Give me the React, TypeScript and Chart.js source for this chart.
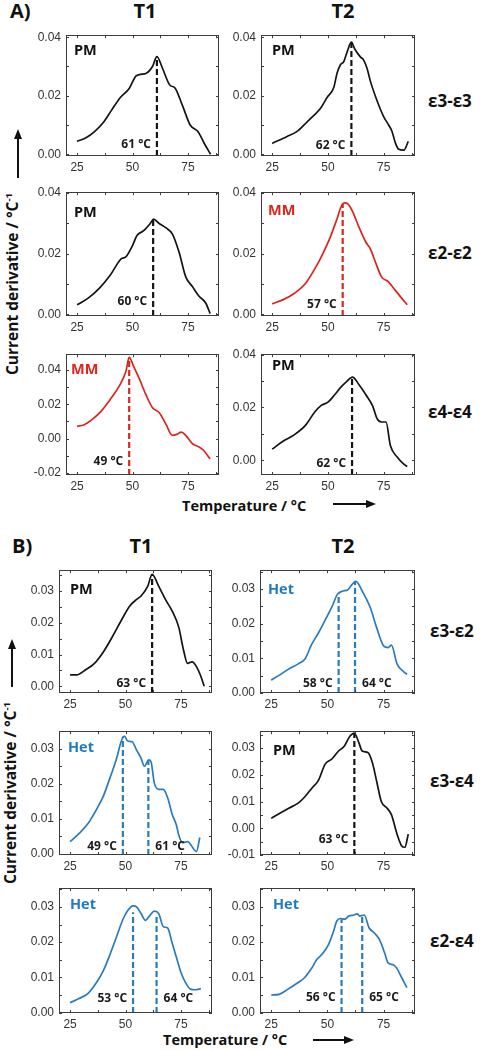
import React, { useEffect, useRef } from 'react';
import { Chart, registerables } from 'chart.js';

Chart.register(...registerables);

// ---------- data ----------
// Panel A, ε3-ε3
const tempA33T1 = [25, 29, 33, 37, 40.5, 44.5, 48.5, 51.5, 53.5, 56, 59, 61, 63.5, 67, 69, 72.5, 76, 79.5, 82.5, 85.2];
const derivA33T1 = [0.0044, 0.0056, 0.0078, 0.011, 0.015, 0.0194, 0.0225, 0.0267, 0.0273, 0.0276, 0.030, 0.0334, 0.0294, 0.0235, 0.0228, 0.0167, 0.010, 0.0078, 0.0035, 0.0];
const tempA33T2 = [25, 31.7, 36.2, 40.7, 43.7, 46.6, 49.6, 52.6, 54.1, 55.6, 57.1, 58.6, 60.5, 62, 64.5, 66, 67.5, 69, 72, 75, 77.2, 78.7, 80.2, 81.7, 84, 86];
const derivA33T2 = [0.0037, 0.0061, 0.0078, 0.0111, 0.0133, 0.0156, 0.0194, 0.0228, 0.0278, 0.0306, 0.0317, 0.035, 0.0383, 0.036, 0.0333, 0.0322, 0.0294, 0.025, 0.0183, 0.0128, 0.010, 0.0078, 0.0039, 0.0017, 0.0014, 0.0044];
// Panel A, ε2-ε2
const tempA22T1 = [25, 30, 35, 40, 45, 47, 50, 52, 55, 58, 59.5, 62, 65, 68, 71, 74, 77, 80, 83, 85];
const derivA22T1 = [0.0032, 0.0054, 0.0086, 0.013, 0.0184, 0.019, 0.0227, 0.026, 0.0276, 0.030, 0.0314, 0.030, 0.0286, 0.0265, 0.0205, 0.0124, 0.0092, 0.006, 0.0038, 0.0003];
const tempA22T2 = [25, 30, 35, 40, 45, 48, 51, 54, 56, 57.5, 59, 61, 64, 67, 69, 71, 74, 77, 80, 83, 85.5];
const derivA22T2 = [0.0035, 0.0049, 0.007, 0.0103, 0.0162, 0.0205, 0.0254, 0.0314, 0.0357, 0.0368, 0.0364, 0.034, 0.0286, 0.0238, 0.0216, 0.0178, 0.0124, 0.0108, 0.0081, 0.0054, 0.0032];
// Panel A, ε4-ε4
const tempA44T1 = [25, 28, 32, 36, 40, 44, 47, 48.5, 50.5, 53, 56, 59, 62, 65, 68, 70, 72, 74, 77, 80, 82, 85];
const derivA44T1 = [0.0072, 0.008, 0.0114, 0.0162, 0.0229, 0.0305, 0.039, 0.0472, 0.042, 0.035, 0.0257, 0.018, 0.0152, 0.0086, 0.0019, 0.0025, 0.0038, 0.0019, -0.0029, -0.0048, -0.0067, -0.0118];
const tempA44T2 = [25, 30, 35, 40, 44, 47, 50, 53, 56, 58, 61, 64, 67, 70, 72, 74, 76, 78, 81, 84, 85.5];
const derivA44T2 = [0.0042, 0.0073, 0.0097, 0.0133, 0.0182, 0.0208, 0.022, 0.0248, 0.0279, 0.0295, 0.0315, 0.0285, 0.0248, 0.0206, 0.0158, 0.0145, 0.0145, 0.0055, 0.0012, -0.0015, -0.0024];
// Panel B, ε3-ε2
const tempB32T1 = [25, 28, 32, 36, 40, 44, 48, 52, 55, 57, 60, 62, 65, 68, 71, 74, 76, 78, 80, 82, 84, 85.5];
const derivB32T1 = [0.0036, 0.0036, 0.0052, 0.0072, 0.0108, 0.0155, 0.0206, 0.0253, 0.0273, 0.0284, 0.0314, 0.0352, 0.0314, 0.0273, 0.0237, 0.0186, 0.0119, 0.0072, 0.0077, 0.0062, 0.0031, 0.0];
const tempB32T2 = [25, 29, 33, 37, 40, 43, 46, 49, 52, 54.5, 57, 59, 61, 62.7, 65.5, 69, 72, 75, 77, 78.5, 81, 84, 85.5];
const derivB32T2 = [0.0037, 0.0053, 0.007, 0.0084, 0.0098, 0.014, 0.0173, 0.021, 0.0248, 0.0285, 0.0294, 0.0297, 0.0313, 0.0322, 0.0294, 0.0248, 0.0187, 0.0136, 0.0131, 0.0138, 0.0084, 0.0061, 0.0054];
// Panel B, ε3-ε4
const tempB34T1 = [25, 29, 33, 37, 40, 43, 46, 48, 49.5, 51, 53, 55, 57, 58.5, 60.5, 61.5, 63, 65, 67, 69, 71, 73, 74, 75.7, 78, 81, 82, 83.5];
const derivB34T1 = [0.0035, 0.0058, 0.0086, 0.0128, 0.0165, 0.0217, 0.0273, 0.032, 0.0336, 0.0322, 0.032, 0.0296, 0.0273, 0.025, 0.0268, 0.0263, 0.0202, 0.0184, 0.0184, 0.016, 0.0114, 0.0081, 0.0054, 0.0032, 0.0035, 0.0012, 0.0007, 0.0047];
const tempB34T2 = [25, 29, 33, 37, 40, 43, 46, 49, 52, 55, 57.5, 60, 62, 64, 65.5, 68, 70, 72, 74, 76.5, 78.5, 81, 83, 84.5, 86];
const derivB34T2 = [0.0037, 0.0057, 0.0076, 0.0094, 0.0118, 0.0149, 0.0179, 0.024, 0.0259, 0.0289, 0.0307, 0.0344, 0.0356, 0.032, 0.0289, 0.0283, 0.0246, 0.0173, 0.010, 0.0076, 0.0051, -0.0022, -0.0065, -0.0071, -0.0022];
// Panel B, ε2-ε4
const tempB24T1 = [25, 29, 33, 37, 40, 43, 46, 49, 51, 53.5, 55, 57, 59, 61, 63, 65, 67, 69, 71, 73, 75, 77, 79, 81.5, 84];
const derivB24T1 = [0.0028, 0.004, 0.0054, 0.0086, 0.0119, 0.0165, 0.0216, 0.0267, 0.029, 0.0303, 0.030, 0.0281, 0.0262, 0.0276, 0.0288, 0.0281, 0.0244, 0.024, 0.0198, 0.0156, 0.0114, 0.0086, 0.0068, 0.0065, 0.0068];
const tempB24T2 = [25, 28.5, 32.3, 36.8, 39.8, 42.9, 45.2, 47.4, 50.5, 52.7, 54.2, 55.8, 57.7, 59.5, 61.8, 63.3, 64.4, 66.4, 68.6, 70.9, 73.2, 75.5, 77, 79.3, 80.8, 83.1, 85.4];
const derivB24T2 = [0.005, 0.0052, 0.0066, 0.0085, 0.0099, 0.0125, 0.015, 0.0164, 0.0193, 0.023, 0.026, 0.0267, 0.0265, 0.0274, 0.0277, 0.028, 0.0274, 0.0277, 0.024, 0.0226, 0.0207, 0.0169, 0.0141, 0.0136, 0.0127, 0.0099, 0.0071];

// peak (dashed line) temperatures, heights and texts
const peaksA33T1 = [61]; const peakTopsA33T1 = [0.0334]; const peakTextsA33T1 = ['61 °C'];
const peaksA33T2 = [60.5]; const peakTopsA33T2 = [0.0383]; const peakTextsA33T2 = ['62 °C'];
const peaksA22T1 = [59.3]; const peakTopsA22T1 = [0.0313]; const peakTextsA22T1 = ['60 °C'];
const peaksA22T2 = [56.6]; const peakTopsA22T2 = [0.0366]; const peakTextsA22T2 = ['57 °C'];
const peaksA44T1 = [48.5]; const peakTopsA44T1 = [0.0472]; const peakTextsA44T1 = ['49 °C'];
const peaksA44T2 = [60.8]; const peakTopsA44T2 = [0.0313]; const peakTextsA44T2 = ['62 °C'];
const peaksB32T1 = [62]; const peakTopsB32T1 = [0.0352]; const peakTextsB32T1 = ['63 °C'];
const peaksB32T2 = [55, 62.3]; const peakTopsB32T2 = [0.0288, 0.032]; const peakTextsB32T2 = ['58 °C', '64 °C'];
const peaksB34T1 = [48.8, 60.3]; const peakTopsB34T1 = [0.0335, 0.0268]; const peakTextsB34T1 = ['49 °C', '61 °C'];
const peaksB34T2 = [62]; const peakTopsB34T2 = [0.0356]; const peakTextsB34T2 = ['63 °C'];
const peaksB24T1 = [53.4, 64]; const peakTopsB24T1 = [0.0285, 0.028]; const peakTextsB24T1 = ['53 °C', '64 °C'];
const peaksB24T2 = [56.3, 65.5]; const peakTopsB24T2 = [0.0265, 0.0275]; const peakTextsB24T2 = ['56 °C', '65 °C'];

// tick values / labels
const xTickValues = [25, 37.5, 50, 62.5, 75, 87.5];
const xTickLabels = [25, 50, 75];
const yTickValuesA = [-0.02, -0.01, 0, 0.01, 0.02, 0.03, 0.04];
const yTickLabelsA = [-0.02, 0, 0.02, 0.04];
const yTickValuesB = [-0.01, -0.005, 0, 0.005, 0.01, 0.015, 0.02, 0.025, 0.03, 0.035];
const yTickLabelsB = [-0.01, 0, 0.01, 0.02, 0.03];

const columnTitles = ['T1', 'T2'];
const rowLabelsA = ['ε3-ε3', 'ε2-ε2', 'ε4-ε4'];
const rowLabelsB = ['ε3-ε2', 'ε3-ε4', 'ε2-ε4'];

// ---------- styles / layout ----------
const BLACK = '#141414';
const RED = '#d8261e';
const BLUE = '#2a7bbd';
const X_MIN = 20;
const X_MAX = 89;
const PAD_L = 46, PAD_T = 10, PAD_R = 6, PAD_B = 24;
const FONT = '"Open Sans", "DejaVu Sans", sans-serif';
const TICK_FONT = '"Liberation Sans", Arial, sans-serif';

type Panel = {
  left: number; right: number; top: number; bottom: number;
  temps: number[]; values: number[];
  yMin: number; yMax: number; yTicks: number[]; yLabels: number[];
  color: string; tag: string; tagDx: number; tagDy: number;
  peaks: number[]; peakTops: number[]; peakTexts: string[]; sides: string[]; labelDy: number;
};

const AC1 = [66, 219], AC2 = [261, 415], BC1 = [59, 212], BC2 = [260, 415];
const AR = [[33, 156], [190, 316], [352, 475]];
const BR = [[568, 693], [729, 855], [886, 1013]];

const mk = (col: number[], row: number[], rest: Omit<Panel, 'left' | 'right' | 'top' | 'bottom'>): Panel => ({
  left: col[0], right: col[1], top: row[0], bottom: row[1], ...rest,
});

const panels: Panel[] = [
  mk(AC1, AR[0], { temps: tempA33T1, values: derivA33T1, yMin: -0.0006, yMax: 0.0407, yTicks: yTickValuesA, yLabels: yTickLabelsA, color: BLACK, tag: 'PM', tagDx: 8, tagDy: 20, peaks: peaksA33T1, peakTops: peakTopsA33T1, peakTexts: peakTextsA33T1, sides: ['l'], labelDy: 8 }),
  mk(AC2, AR[0], { temps: tempA33T2, values: derivA33T2, yMin: -0.0006, yMax: 0.0407, yTicks: yTickValuesA, yLabels: yTickLabelsA, color: BLACK, tag: 'PM', tagDx: 11, tagDy: 20, peaks: peaksA33T2, peakTops: peakTopsA33T2, peakTexts: peakTextsA33T2, sides: ['l'], labelDy: 7 }),
  mk(AC1, AR[1], { temps: tempA22T1, values: derivA22T1, yMin: -0.0005, yMax: 0.0403, yTicks: yTickValuesA, yLabels: yTickLabelsA, color: BLACK, tag: 'PM', tagDx: 8, tagDy: 25, peaks: peaksA22T1, peakTops: peakTopsA22T1, peakTexts: peakTextsA22T1, sides: ['l'], labelDy: 11 }),
  mk(AC2, AR[1], { temps: tempA22T2, values: derivA22T2, yMin: -0.0005, yMax: 0.0403, yTicks: yTickValuesA, yLabels: yTickLabelsA, color: RED, tag: 'MM', tagDx: 7, tagDy: 23, peaks: peaksA22T2, peakTops: peakTopsA22T2, peakTexts: peakTextsA22T2, sides: ['l'], labelDy: 8 }),
  mk(AC1, AR[2], { temps: tempA44T1, values: derivA44T1, yMin: -0.0211, yMax: 0.0491, yTicks: yTickValuesA, yLabels: yTickLabelsA, color: RED, tag: 'MM', tagDx: 5, tagDy: 20, peaks: peaksA44T1, peakTops: peakTopsA44T1, peakTexts: peakTextsA44T1, sides: ['l'], labelDy: 10 }),
  mk(AC2, AR[2], { temps: tempA44T2, values: derivA44T2, yMin: -0.0056, yMax: 0.0402, yTicks: yTickValuesA, yLabels: yTickLabelsA, color: BLACK, tag: 'PM', tagDx: 11, tagDy: 16, peaks: peaksA44T2, peakTops: peakTopsA44T2, peakTexts: peakTextsA44T2, sides: ['l'], labelDy: 8 }),
  mk(BC1, BR[0], { temps: tempB32T1, values: derivB32T1, yMin: -0.0021, yMax: 0.0365, yTicks: yTickValuesB, yLabels: yTickLabelsB, color: BLACK, tag: 'PM', tagDx: 11, tagDy: 24, peaks: peaksB32T1, peakTops: peakTopsB32T1, peakTexts: peakTextsB32T1, sides: ['l'], labelDy: 6 }),
  mk(BC2, BR[0], { temps: tempB32T2, values: derivB32T2, yMin: 0, yMax: 0.0354, yTicks: yTickValuesB, yLabels: yTickLabelsB, color: BLUE, tag: 'Het', tagDx: 8, tagDy: 24, peaks: peaksB32T2, peakTops: peakTopsB32T2, peakTexts: peakTextsB32T2, sides: ['l', 'r'], labelDy: 6 }),
  mk(BC1, BR[1], { temps: tempB34T1, values: derivB34T1, yMin: -0.0003, yMax: 0.035, yTicks: yTickValuesB, yLabels: yTickLabelsB, color: BLUE, tag: 'Het', tagDx: 9, tagDy: 21, peaks: peaksB34T1, peakTops: peakTopsB34T1, peakTexts: peakTextsB34T1, sides: ['l', 'r'], labelDy: 5 }),
  mk(BC2, BR[1], { temps: tempB34T2, values: derivB34T2, yMin: -0.01, yMax: 0.0363, yTicks: yTickValuesB, yLabels: yTickLabelsB, color: BLACK, tag: 'PM', tagDx: 13, tagDy: 24, peaks: peaksB34T2, peakTops: peakTopsB34T2, peakTexts: peakTextsB34T2, sides: ['l'], labelDy: 12 }),
  mk(BC1, BR[2], { temps: tempB24T1, values: derivB24T1, yMin: -0.0001, yMax: 0.0353, yTicks: yTickValuesB, yLabels: yTickLabelsB, color: BLUE, tag: 'Het', tagDx: 11, tagDy: 21, peaks: peaksB24T1, peakTops: peakTopsB24T1, peakTexts: peakTextsB24T1, sides: ['l', 'r'], labelDy: 11 }),
  mk(BC2, BR[2], { temps: tempB24T2, values: derivB24T2, yMin: -0.0001, yMax: 0.0353, yTicks: yTickValuesB, yLabels: yTickLabelsB, color: BLUE, tag: 'Het', tagDx: 13, tagDy: 21, peaks: peaksB24T2, peakTops: peakTopsB24T2, peakTexts: peakTextsB24T2, sides: ['l', 'r'], labelDy: 12 }),
];

const TAG_COLORS: Record<string, string> = { PM: '#111111', MM: '#e2231a', Het: '#1f7ac4' };

function PanelChart({ p }: { p: Panel }) {
  const ref = useRef<HTMLCanvasElement>(null);
  const w = p.right - p.left + PAD_L + PAD_R;
  const h = p.bottom - p.top + PAD_T + PAD_B;

  useEffect(() => {
    if (!ref.current) return;
    const deco = {
      id: 'deco',
      afterDatasetsDraw(chart: any) {
        const { ctx, chartArea: a, scales } = chart;
        const xs = scales.x, ys = scales.y;
        ctx.save();
        // frame
        ctx.strokeStyle = '#3c3c3c';
        ctx.lineWidth = 1;
        ctx.strokeRect(Math.round(a.left) + 0.5, Math.round(a.top) + 0.5, Math.round(a.right - a.left) - 1, Math.round(a.bottom - a.top) - 1);
        // inward ticks
        ctx.beginPath();
        xs.ticks.forEach((t: any) => {
          const px = Math.round(xs.getPixelForValue(t.value)) + 0.5;
          ctx.moveTo(px, a.bottom); ctx.lineTo(px, a.bottom - 3);
          ctx.moveTo(px, a.top); ctx.lineTo(px, a.top + 3);
        });
        ys.ticks.forEach((t: any) => {
          const py = Math.round(ys.getPixelForValue(t.value)) + 0.5;
          ctx.moveTo(a.left, py); ctx.lineTo(a.left + 3, py);
          ctx.moveTo(a.right, py); ctx.lineTo(a.right - 3, py);
        });
        ctx.stroke();
        // tag
        ctx.font = `bold 14.5px ${FONT}`;
        ctx.fillStyle = TAG_COLORS[p.tag];
        ctx.textAlign = 'left';
        ctx.textBaseline = 'alphabetic';
        ctx.fillText(p.tag, a.left + p.tagDx, a.top + p.tagDy);
        // peak labels
        ctx.font = `bold 12px ${FONT}`;
        ctx.fillStyle = '#1a1a1a';
        p.peaks.forEach((pk, i) => {
          const px = xs.getPixelForValue(pk);
          const left = p.sides[i] === 'l';
          ctx.textAlign = left ? 'right' : 'left';
          ctx.fillText(p.peakTexts[i], left ? px - 6 : px + 7, a.bottom - p.labelDy);
        });
        ctx.restore();
      },
    };

    const datasets: any[] = [
      {
        data: p.temps.map((t, i) => ({ x: t, y: p.values[i] })),
        borderColor: p.color,
        borderWidth: 1.7,
        pointRadius: 0,
        fill: false,
        cubicInterpolationMode: 'monotone',
      },
      ...p.peaks.map((pk, i) => ({
        data: [{ x: pk, y: p.yMin }, { x: pk, y: p.peakTops[i] }],
        borderColor: p.color,
        borderWidth: 2.2,
        borderDash: [6, 3],
        pointRadius: 0,
        fill: false,
      })),
    ];

    const chart = new Chart(ref.current, {
      type: 'line',
      data: { datasets },
      options: {
        animation: false,
        responsive: false,
        events: [],
        layout: { padding: { left: 0, top: PAD_T, right: PAD_R, bottom: 0 } },
        plugins: { legend: { display: false }, tooltip: { enabled: false } },
        scales: {
          x: {
            type: 'linear',
            min: X_MIN,
            max: X_MAX,
            grid: { display: false, drawTicks: false, tickLength: 0 },
            border: { display: false },
            afterBuildTicks: (s: any) => { s.ticks = xTickValues.map((v) => ({ value: v })); },
            afterFit: (s: any) => { s.height = PAD_B; },
            ticks: {
              autoSkip: false,
              maxRotation: 0,
              padding: 4,
              color: '#333',
              font: { size: 12, family: TICK_FONT },
              callback: (v: any) => (xTickLabels.includes(v) ? String(v) : ''),
            },
          },
          y: {
            type: 'linear',
            min: p.yMin,
            max: p.yMax,
            grid: { display: false, drawTicks: false, tickLength: 0 },
            border: { display: false },
            afterBuildTicks: (s: any) => {
              s.ticks = p.yTicks.filter((v) => v >= p.yMin - 1e-9 && v <= p.yMax + 1e-9).map((v) => ({ value: v }));
            },
            afterFit: (s: any) => { s.width = PAD_L; },
            ticks: {
              autoSkip: false,
              padding: 5,
              color: '#333',
              font: { size: 12, family: TICK_FONT },
              callback: (v: any) => (p.yLabels.includes(v) ? Number(v).toFixed(2) : ''),
            },
          },
        },
      } as any,
      plugins: [deco as any],
    });
    return () => chart.destroy();
  }, [p]);

  return (
    <canvas
      ref={ref}
      width={w}
      height={h}
      style={{ position: 'absolute', left: p.left - PAD_L, top: p.top - PAD_T, width: w, height: h }}
    />
  );
}

function Txt({ x, y, size, children, center, color }: { x: number; y: number; size: number; children: any; center?: boolean; color?: string }) {
  return (
    <div
      style={{
        position: 'absolute', left: x, top: y, fontFamily: FONT, fontWeight: 700, fontSize: size,
        color: color || '#111', whiteSpace: 'nowrap', lineHeight: 1.2,
        transform: center ? 'translate(-50%, -50%)' : 'translateY(-50%)',
      }}
    >
      {children}
    </div>
  );
}

function YTitle({ x, y }: { x: number; y: number }) {
  return (
    <div
      style={{
        position: 'absolute', left: x, top: y, fontFamily: FONT, fontWeight: 700, fontSize: 15.5,
        color: '#111', whiteSpace: 'nowrap', lineHeight: 1.2,
        transform: 'translate(-50%, -50%) rotate(-90deg)',
      }}
    >
      Current derivative / °C<sup style={{ fontSize: '0.62em', verticalAlign: '0.55em', lineHeight: 0 }}>-1</sup>
    </div>
  );
}

export default function App() {
  const rowYA = [101, 253, 412];
  const rowYB = [631, 781, 941];
  return (
    <div style={{ position: 'absolute', left: 0, top: 0, width: 483, height: 1050, background: '#fff', overflow: 'hidden' }}>
      <Txt x={10} y={11} size={20}>A)</Txt>
      <Txt x={145} y={11} size={20} center>{columnTitles[0]}</Txt>
      <Txt x={343} y={11} size={20} center>{columnTitles[1]}</Txt>
      <Txt x={12} y={546} size={20}>B)</Txt>
      <Txt x={141} y={546} size={20} center>{columnTitles[0]}</Txt>
      <Txt x={343} y={546} size={20} center>{columnTitles[1]}</Txt>
      {rowLabelsA.map((r, i) => <Txt key={'a' + i} x={428} y={rowYA[i]} size={17}>{r}</Txt>)}
      {rowLabelsB.map((r, i) => <Txt key={'b' + i} x={430} y={rowYB[i]} size={17}>{r}</Txt>)}
      <YTitle x={12} y={284} />
      <YTitle x={10} y={793} />
      <Txt x={182} y={506} size={14.5}>Temperature / °C</Txt>
      <Txt x={163} y={1040} size={14.5}>Temperature / °C</Txt>
      <svg width={483} height={1050} style={{ position: 'absolute', left: 0, top: 0, pointerEvents: 'none' }}>
        <g stroke="#111" strokeWidth={2} fill="#111">
          <line x1={18} y1={178} x2={18} y2={137} />
          <polygon points="18,129 14,139 22,139" stroke="none" />
          <line x1={12} y1={687} x2={12} y2={647} />
          <polygon points="12,639 8,649 16,649" stroke="none" />
          <line x1={333} y1={504} x2={367} y2={504} />
          <polygon points="376,504 366,500 366,508" stroke="none" />
          <line x1={313} y1={1040} x2={345} y2={1040} />
          <polygon points="354,1040 344,1036 344,1044" stroke="none" />
        </g>
      </svg>
      {panels.map((p, i) => <PanelChart key={i} p={p} />)}
    </div>
  );
}
